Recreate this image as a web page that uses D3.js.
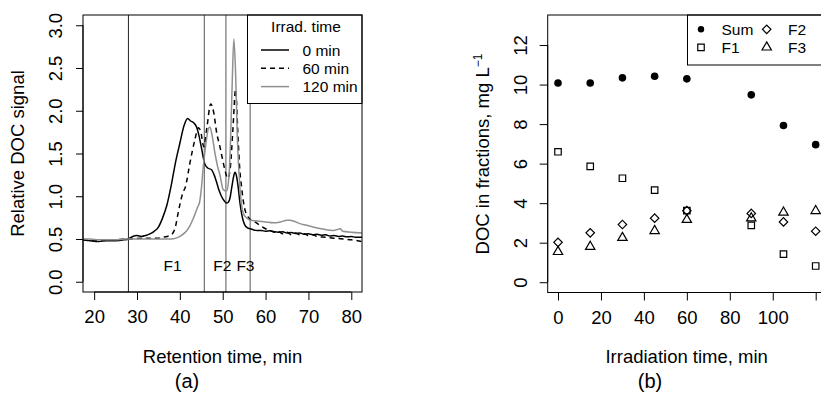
<!DOCTYPE html>
<html><head><meta charset="utf-8">
<script src="https://cdn.jsdelivr.net/npm/d3@7/dist/d3.min.js"></script>
<style>
html,body{margin:0;padding:0;background:#fff;}
svg{display:block;font-family:"Liberation Sans",Arial,Helvetica,sans-serif;}
</style></head>
<body>
<svg id="chart" width="821" height="394"></svg>
<script>
// ---------- Panel (a) data: relative DOC signal vs retention time ----------
const rt0   = [17.4,19,21,23,25,27,28,29,30,31,32,33,34,35,36,37,38,39,40,41,41.8,42.5,43.2,43.9,44.5,45.1,45.8,46.5,47.4,48,48.6,49.2,49.7,50.3,50.9,51.3,51.7,52.1,52.5,52.85,53.2,53.6,54.0,54.4,54.8,55.2,55.8,56.4,57,58,59,60,61,62,63,64,65,66,67,68,69,70,71,72,73,74,75,76,77,78,79,80,81,82.5];
const sig0  = [0.49,0.48,0.47,0.48,0.48,0.49,0.50,0.53,0.54,0.53,0.54,0.56,0.59,0.64,0.75,0.90,1.13,1.40,1.62,1.83,1.91,1.88,1.86,1.81,1.70,1.55,1.38,1.33,1.31,1.25,1.16,1.06,1.00,0.95,0.92,0.93,0.98,1.10,1.22,1.28,1.24,1.11,0.93,0.80,0.71,0.66,0.63,0.62,0.61,0.60,0.60,0.59,0.595,0.585,0.58,0.585,0.57,0.575,0.565,0.57,0.555,0.56,0.55,0.555,0.545,0.55,0.535,0.54,0.53,0.535,0.525,0.53,0.52,0.52];
const rt60  = [17.4,19,21,23,25,27,29,31,33,35,36,37,38,38.5,39,39.5,40.7,41.3,42.35,43.5,44.3,44.8,45.6,46.3,47.2,47.9,48.6,49.35,50.0,50.5,51.2,51.8,52.4,53.0,53.6,54.0,54.4,54.8,55.2,55.8,56.35,57.5,58.7,60,61,62,63,64,65,66,67,68,69,70,71,72,74,76,78,80,82.5];
const sig60 = [0.49,0.48,0.48,0.49,0.49,0.50,0.50,0.51,0.51,0.51,0.52,0.53,0.55,0.58,0.65,0.78,1.04,1.11,1.39,1.66,1.80,1.77,1.58,1.80,2.08,1.98,1.74,1.58,1.42,1.31,1.21,1.35,1.80,2.25,1.66,1.30,1.11,0.95,0.84,0.77,0.73,0.70,0.66,0.62,0.60,0.58,0.59,0.56,0.58,0.55,0.57,0.55,0.56,0.54,0.55,0.53,0.52,0.51,0.50,0.49,0.47];
const rt120 = [17.4,19,21,23,25,27,29,31,33,35,37,38,39.1,40.3,41.5,42.3,43.05,43.6,44.2,44.6,45.0,45.4,45.8,46.2,46.6,47.0,47.5,48.2,48.8,49.35,50.1,50.9,51.4,51.8,52.2,52.6,53.0,53.4,54.0,54.4,54.8,55.5,56.35,58,60,61.8,63.5,65,65.7,66.5,68,69.6,71,73,75.8,77.5,78,80,82.5];
const sig120= [0.50,0.50,0.49,0.49,0.49,0.50,0.50,0.50,0.50,0.50,0.50,0.50,0.51,0.54,0.59,0.65,0.73,0.80,0.88,0.93,1.08,1.31,1.50,1.66,1.78,1.81,1.72,1.50,1.35,1.25,1.08,1.06,1.20,1.60,2.30,2.84,2.45,1.70,1.11,0.90,0.80,0.75,0.72,0.71,0.70,0.69,0.70,0.72,0.72,0.71,0.68,0.66,0.64,0.62,0.60,0.62,0.59,0.58,0.57];
const fractionBounds = [28, 45.7, 50.75, 56.4];
const fractionLabels = ["F1","F2","F3"];
const fractionLabelX = [38.3, 49.9, 55.3];
const seriesNamesA = ["0 min","60 min","120 min"];
const xTicksA = [20,30,40,50,60,70,80];
const yTicksA = [0,0.5,1,1.5,2,2.5,3];

// ---------- Panel (b) data: DOC in fractions vs irradiation time ----------
const irrTime = [0,15,30,45,60,90,105,120];
const docSum  = [10.08,10.08,10.34,10.42,10.29,9.48,7.93,6.96];
const docF1   = [6.60,5.86,5.26,4.66,3.62,2.88,1.42,0.82];
const docF2   = [2.02,2.50,2.92,3.24,3.62,3.48,3.05,2.58];
const docF3   = [1.54,1.80,2.25,2.60,3.16,3.24,3.53,3.61];
const xTicksB = [0,20,40,60,80,100,120];
const xTickLabelsB = ["0","20","40","60","80","100",""];
const yTicksB = [0,2,4,6,8,10,12];

const svg = d3.select("#chart");
const FS = 18.5;

// ================= Panel (a) =================
const xa = d3.scaleLinear().domain([17.4, 82.5]).range([83, 362]);
const ya = d3.scaleLinear().domain([-0.12, 3.12]).range([292, 15]);
const ga = svg.append("g");

ga.selectAll("line.fb").data(fractionBounds).join("line")
  .attr("x1", d => xa(d)).attr("x2", d => xa(d))
  .attr("y1", ya.range()[0]).attr("y2", ya.range()[1])
  .attr("stroke", (d,i) => i === 0 ? "#222" : "#555").attr("stroke-width", 1);

ga.selectAll("text.fl").data(fractionLabels).join("text")
  .attr("x", (d,i) => xa(fractionLabelX[i])).attr("y", 271)
  .attr("text-anchor","middle").attr("font-size",15.5).text(d => d);

const lineA = d3.line().x(d => xa(d[0])).y(d => ya(d[1])).curve(d3.curveMonotoneX);
const seriesA = [
  {x: rt0,   y: sig0,   stroke:"#000",    dash:null},
  {x: rt60,  y: sig60,  stroke:"#000",    dash:"5,4"},
  {x: rt120, y: sig120, stroke:"#909090", dash:null}
];
svg.append("clipPath").attr("id","clipA").append("rect")
  .attr("x",83).attr("y",15).attr("width",279).attr("height",277);
ga.append("g").attr("clip-path","url(#clipA)")
  .selectAll("path.s").data(seriesA).join("path")
  .attr("d", s => lineA(s.x.map((v,i) => [v, s.y[i]])))
  .attr("fill","none").attr("stroke", s => s.stroke).attr("stroke-width",1.5)
  .attr("stroke-dasharray", s => s.dash);

// legend (a)
const lgA = ga.append("g");
lgA.append("rect").attr("x",247.5).attr("y",15).attr("width",114.5).attr("height",88.5)
  .attr("fill","#fff").attr("stroke","#000").attr("stroke-width",1);
lgA.append("text").attr("x",306).attr("y",31.5).attr("text-anchor","middle")
  .attr("font-size",15.5).text("Irrad. time");
lgA.selectAll("line.le").data(seriesA).join("line")
  .attr("x1",261).attr("x2",289)
  .attr("y1",(d,i) => 50 + i*18.3).attr("y2",(d,i) => 50 + i*18.3)
  .attr("stroke", d => d.stroke).attr("stroke-width",1.5).attr("stroke-dasharray", d => d.dash);
lgA.selectAll("text.lt").data(seriesNamesA).join("text")
  .attr("x",302.5).attr("y",(d,i) => 55.5 + i*18.3)
  .attr("font-size",15.5).text(d => d);

// box (a)
ga.append("rect").attr("x",83).attr("y",15).attr("width",279).attr("height",277)
  .attr("fill","none").attr("stroke","#000").attr("stroke-width",1);

// axes (a)
ga.append("g").attr("transform","translate(0,292)")
  .call(d3.axisBottom(xa).tickValues(xTicksA).tickSize(8).tickPadding(10).tickSizeOuter(0))
  .call(g => { g.select(".domain").attr("d", `M${xa(20)},0H${xa(80)}`);
               g.selectAll("text").attr("font-size",FS).attr("font-family",null); });
ga.append("g").attr("transform","translate(83,0)")
  .call(d3.axisLeft(ya).tickValues(yTicksA).tickSize(7).tickFormat(d3.format(".1f")).tickSizeOuter(0))
  .call(g => { g.select(".domain").attr("d", `M0,${ya(0)}V${ya(3)}`);
               g.selectAll("text").attr("font-size",FS).attr("font-family",null)
                 .attr("text-anchor","middle").attr("dy",null).attr("x",null)
                 .attr("transform","translate(-21,0) rotate(-90)"); });

ga.append("text").attr("x",222.5).attr("y",363).attr("text-anchor","middle")
  .attr("font-size",FS).text("Retention time, min");
ga.append("text").attr("transform","translate(24,153.5) rotate(-90)").attr("text-anchor","middle")
  .attr("font-size",FS).text("Relative DOC signal");
ga.append("text").attr("x",187).attr("y",388).attr("text-anchor","middle")
  .attr("font-size",20).text("(a)");

// ================= Panel (b) =================
const xb = d3.scaleLinear().domain([-4.8, 124.8]).range([547.7, 826]);
const yb = d3.scaleLinear().domain([-0.52, 13.52]).range([292.5, 15]);
const gb = svg.append("g");

const symSquare = d3.symbol().type(d3.symbolSquare).size(42);
const symDiamond = d3.symbol().type(d3.symbolSquare).size(36);
const symTri = d3.symbol().type(d3.symbolTriangle).size(38);

const seriesB = [
  {name:"Sum", y: docSum, kind:"circle"},
  {name:"F1",  y: docF1,  kind:"square"},
  {name:"F2",  y: docF2,  kind:"diamond"},
  {name:"F3",  y: docF3,  kind:"triangle"}
];
function drawSym(sel, kind){
  if (kind === "circle") {
    sel.append("circle").attr("r",3.8).attr("fill","#000");
  } else if (kind === "square") {
    sel.append("path").attr("d", symSquare()).attr("fill","none").attr("stroke","#000").attr("stroke-width",1.2);
  } else if (kind === "diamond") {
    sel.append("path").attr("d", symDiamond()).attr("transform","rotate(45)")
      .attr("fill","none").attr("stroke","#000").attr("stroke-width",1.2);
  } else {
    sel.append("path").attr("d", symTri()).attr("fill","none").attr("stroke","#000").attr("stroke-width",1.2);
  }
}
seriesB.forEach(s => {
  gb.append("g").selectAll("g").data(irrTime).join("g")
    .attr("transform",(d,i) => `translate(${xb(d)},${yb(s.y[i])})`)
    .each(function(){ drawSym(d3.select(this), s.kind); });
});

// legend (b)
const lgB = gb.append("g");
lgB.append("rect").attr("x",687.5).attr("y",15).attr("width",140).attr("height",50)
  .attr("fill","#fff").attr("stroke","#000").attr("stroke-width",1);
const legPos = [
  {sx:701, tx:721.5, y:29.3},
  {sx:701, tx:721.5, y:47.3},
  {sx:766.7, tx:788, y:29.3},
  {sx:766.7, tx:788, y:47.3}
];
seriesB.forEach((s,i) => {
  const p = legPos[i];
  const g = lgB.append("g").attr("transform",`translate(${p.sx},${p.y})`);
  drawSym(g, s.kind);
  if (s.kind === "circle") g.select("circle").attr("r",3.2);
  lgB.append("text").attr("x",p.tx).attr("y",p.y+5.5).attr("font-size",15.5).text(s.name);
});

// box (b)
gb.append("rect").attr("x",547.7).attr("y",15).attr("width",278.3).attr("height",277.5)
  .attr("fill","none").attr("stroke","#000").attr("stroke-width",1);

gb.append("g").attr("transform","translate(0,292.5)")
  .call(d3.axisBottom(xb).tickValues(xTicksB).tickSize(8).tickPadding(10).tickSizeOuter(0)
    .tickFormat((d,i) => xTickLabelsB[i]))
  .call(g => { g.select(".domain").attr("d", `M${xb(0)},0H${xb(120)}`);
               g.selectAll("text").attr("font-size",FS).attr("font-family",null); });
gb.append("g").attr("transform","translate(547.7,0)")
  .call(d3.axisLeft(yb).tickValues(yTicksB).tickSize(8).tickSizeOuter(0))
  .call(g => { g.select(".domain").attr("d", `M0,${yb(0)}V${yb(12)}`);
               g.selectAll("text").attr("font-size",FS).attr("font-family",null)
                 .attr("text-anchor","middle").attr("dy",null).attr("x",null)
                 .attr("transform","translate(-21,0) rotate(-90)"); });
svg.selectAll(".tick text").attr("fill","#000");
svg.selectAll(".tick line").attr("stroke","#000");
svg.selectAll(".domain").attr("stroke","#000");

gb.append("text").attr("x",686.7).attr("y",363).attr("text-anchor","middle")
  .attr("font-size",FS).text("Irradiation time, min");
const yl = gb.append("text").attr("transform","translate(489,154) rotate(-90)").attr("text-anchor","middle")
  .attr("font-size",FS);
yl.append("tspan").text("DOC in fractions, mg L");
yl.append("tspan").attr("font-size",12).attr("dy",-7).text("\u22121");
gb.append("text").attr("x",650).attr("y",388).attr("text-anchor","middle")
  .attr("font-size",20).text("(b)");
</script>
</body></html>
